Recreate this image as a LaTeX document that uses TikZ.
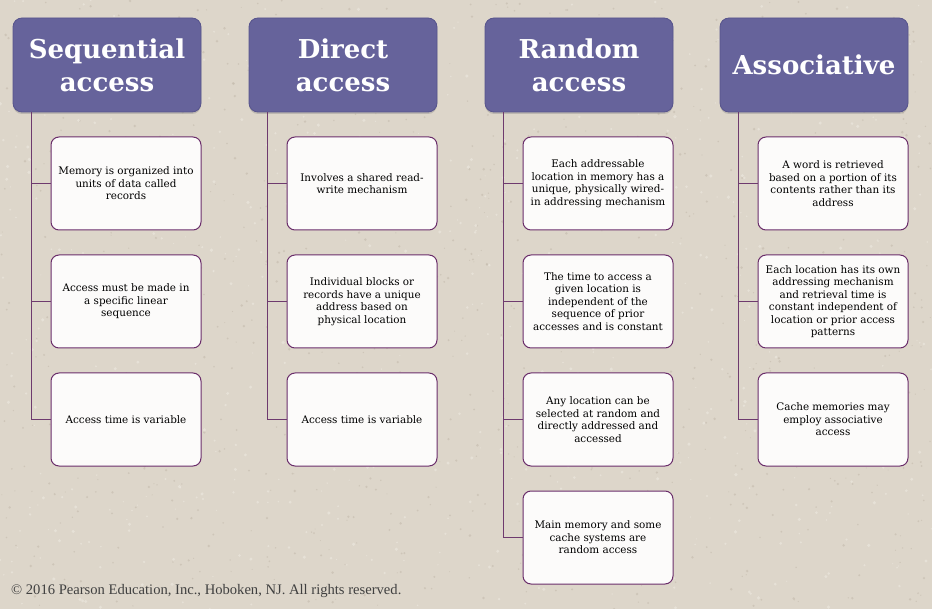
\documentclass[tikz,border=0pt]{standalone}
\usepackage{fontspec}
\setmainfont{DejaVu Serif}
\newfontfamily\copyfont{Liberation Serif}
\usetikzlibrary{shadows}
\definecolor{paper}{HTML}{DDD6CA}
\definecolor{speckdark}{HTML}{C4BBAD}
\definecolor{specklight}{HTML}{ECE7DE}
\definecolor{headfill}{HTML}{66639B}
\definecolor{headborder}{HTML}{57548C}
\definecolor{itemfill}{HTML}{FCFBFA}
\definecolor{itemborder}{HTML}{6A2D6A}
\definecolor{linkcol}{HTML}{6E3A6E}
\tikzset{
  head/.style={draw=headborder, fill=headfill, line width=0.8pt, rounded corners=9pt,
    minimum width=188pt, minimum height=94pt, inner sep=0pt, align=center,
    text=white, font=\bfseries\fontsize{26}{33}\selectfont,
    drop shadow={opacity=0.35, shadow xshift=0pt, shadow yshift=-2pt}},
  item/.style={draw=itemborder, line width=1pt, fill=itemfill, rounded corners=8pt,
    minimum width=150pt, minimum height=93pt, inner sep=2pt, align=center,
    font=\fontsize{10.4}{12.5}\selectfont},
  link/.style={draw=linkcol, line width=1.1pt},
  note/.style={font=\copyfont\fontsize{14.6}{16}\selectfont, text=black!75, inner sep=0pt, anchor=west}
}
\begin{document}
\begin{tikzpicture}[x=1pt,y=-1pt]
  % paper background with a light speckled texture
  \fill[paper] (0,0) rectangle (932,609);
  \useasboundingbox (0,0) rectangle (932,609);
  \pgfmathsetseed{42}
  \foreach \i in {1,...,1000}{
    \pgfmathsetmacro{\px}{932*rnd}
    \pgfmathsetmacro{\py}{609*rnd}
    \pgfmathsetmacro{\pr}{0.5+0.9*rnd}
    \fill[speckdark, opacity=0.6] (\px,\py) circle[radius=\pr];
  }
  \foreach \i in {1,...,800}{
    \pgfmathsetmacro{\px}{932*rnd}
    \pgfmathsetmacro{\py}{609*rnd}
    \pgfmathsetmacro{\pr}{0.6+1.2*rnd}
    \fill[specklight, opacity=0.65] (\px,\py) circle[radius=\pr];
  }

  % column headers
  \node[head] (h1) at (107,65) {Sequential\\access};
  \node[head] (h2) at (343,65) {Direct\\access};
  \node[head] (h3) at (579,65) {Random\\access};
  \node[head] (h4) at (814,65) {Associative};

  % sequential access
  \node[item] (a1) at (126,183.5) {Memory is organized into\\units of data called\\records};
  \node[item] (a2) at (126,301.5) {Access must be made in\\a specific linear\\sequence};
  \node[item] (a3) at (126,419.5) {Access time is variable};

  % direct access
  \node[item] (b1) at (362,183.5) {Involves a shared read-\\write mechanism};
  \node[item] (b2) at (362,301.5) {Individual blocks or\\records have a unique\\address based on\\physical location};
  \node[item] (b3) at (362,419.5) {Access time is variable};

  % random access
  \node[item] (c1) at (598,183.5) {Each addressable\\location in memory has a\\unique, physically wired-\\in addressing mechanism};
  \node[item] (c2) at (598,301.5) {The time to access a\\given location is\\independent of the\\sequence of prior\\accesses and is constant};
  \node[item] (c3) at (598,419.5) {Any location can be\\selected at random and\\directly addressed and\\accessed};
  \node[item] (c4) at (598,537.5) {Main memory and some\\cache systems are\\random access};

  % associative access
  \node[item] (d1) at (833,183.5) {A word is retrieved\\based on a portion of its\\contents rather than its\\address};
  \node[item] (d2) at (833,301.5) {Each location has its own\\addressing mechanism\\and retrieval time is\\constant independent of\\location or prior access\\patterns};
  \node[item] (d3) at (833,419.5) {Cache memories may\\employ associative\\access};

  % tree connectors
  \foreach \h/\kids in {h1/{a1,a2,a3}, h2/{b1,b2,b3}, h3/{c1,c2,c3,c4}, h4/{d1,d2,d3}}{
    \foreach \k in \kids{
      \draw[link] ([xshift=19pt]\h.south west) |- (\k.west);
    }
  }

  \node[note] (copy) at (11,591) {© 2016 Pearson Education, Inc., Hoboken, NJ. All rights reserved.};
\end{tikzpicture}
\end{document}
